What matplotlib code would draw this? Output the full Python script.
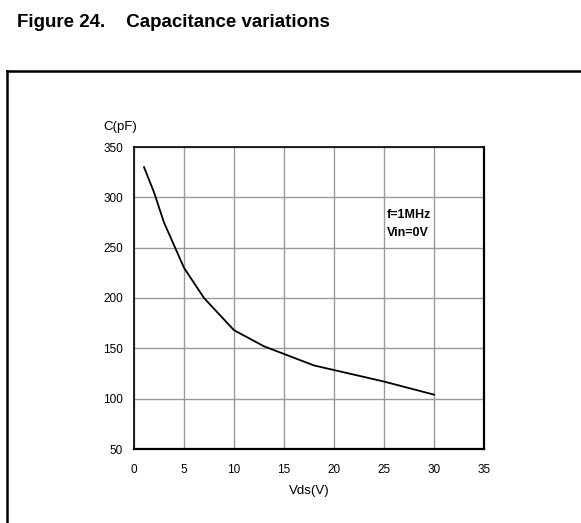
import matplotlib
matplotlib.use("Agg")
import matplotlib.pyplot as plt
from matplotlib.lines import Line2D

plt.rcParams['font.family'] = ['Liberation Sans', 'DejaVu Sans']

# curve
vds = [1, 2, 3, 5, 7, 10, 13, 18, 25, 30]
cap = [330, 305, 275, 230, 200, 168, 152, 133, 117, 104]

xticks = [0, 5, 10, 15, 20, 25, 30, 35]
yticks = [50, 100, 150, 200, 250, 300, 350]

fig = plt.figure(figsize=(5.81, 5.23), dpi=100)

fig.text(17/581, 1 - 27/523, "Figure 24.    Capacitance variations",
         fontsize=13.5, fontweight='bold', ha='left', va='baseline')

# frame around the graph
fig.add_artist(Line2D([7/581, 1.0], [1 - 71/523, 1 - 71/523], color='black', lw=1.8))
fig.add_artist(Line2D([7/581, 7/581], [1 - 71/523, 0.0], color='black', lw=1.8))

ax = fig.add_axes([134/581, 1 - 449/523, 350/581, 302/523])
ax.plot(vds, cap, color='black', lw=1.3)

ax.set_xlim(0, 35)
ax.set_ylim(50, 350)
ax.set_xticks(xticks)
ax.set_yticks(yticks)
ax.tick_params(length=0, labelsize=8.5)
ax.tick_params(axis='y', pad=8)
ax.tick_params(axis='x', pad=11)
ax.grid(True, color='#999999', lw=1)
ax.set_axisbelow(True)
for s in ax.spines.values():
    s.set_color('black')
    s.set_linewidth(1.2)
ax.spines['bottom'].set_linewidth(1.6)
ax.spines['right'].set_linewidth(1.6)

ax.text(25.3, 282, "f=1MHz", fontsize=9, fontweight='bold', va='center', ha='left')
ax.text(25.3, 264.5, "Vin=0V", fontsize=9, fontweight='bold', va='center', ha='left')

fig.text(103/581, 1 - 127/523, "C(pF)", fontsize=9.5, ha='left', va='center')
fig.text(309/581, 1 - 491/523, "Vds(V)", fontsize=9.5, ha='center', va='center')

fig.savefig("out.png", dpi=100)
